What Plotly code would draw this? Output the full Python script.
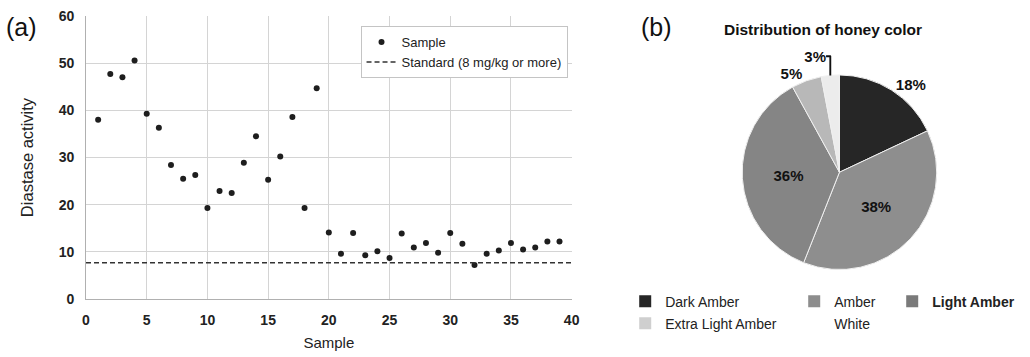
import plotly.graph_objects as go

# ---- data ----
sample = list(range(1, 40))
diastase = [38.0, 47.7, 47.0, 50.6, 39.3, 36.3, 28.4, 25.5, 26.3, 19.3,
            22.9, 22.5, 28.9, 34.5, 25.3, 30.2, 38.6, 19.3, 44.7, 14.1,
            9.6, 14.0, 9.3, 10.1, 8.7, 13.9, 10.9, 11.9, 9.8, 14.0,
            11.7, 7.2, 9.6, 10.3, 11.9, 10.5, 10.9, 12.2, 12.2]
standard_level = 7.7
x_range = [0, 40]
y_range = [0, 60]
x_ticks = [0, 5, 10, 15, 20, 25, 30, 35, 40]
y_ticks = [0, 10, 20, 30, 40, 50, 60]

color_labels = ["Dark Amber", "Amber", "Light Amber", "Extra Light Amber", "White"]
color_share = [18, 38, 36, 5, 3]
color_fill = ["#262626", "#8e8e8e", "#858585", "#b8b8b8", "#ececec"]
swatch_fill = ["#262626", "#8d8d8d", "#7a7a7a", "#cfcfcf", "#ffffff"]
label_pos = ["outside", "inside", "inside", "outside", "outside"]
legend_rows = ["legend2", "legend2", "legend2", "legend3", "legend3"]
legend_text = ["Dark Amber", "Amber", "<b>Light Amber</b>", "Extra Light Amber", "White"]
legend_widths = [124, 53, 100, 124, 53]

FONT = "Liberation Sans, Arial, sans-serif"

fig = go.Figure()

fig.add_trace(go.Scatter(
    x=sample, y=diastase, mode="markers", name="Sample",
    marker=dict(color="#1e1e1e", size=6), legend="legend",
))
fig.add_trace(go.Scatter(
    x=x_range, y=[standard_level, standard_level], mode="lines",
    name="Standard (8 mg/kg or more)",
    line=dict(color="#333333", width=1.5, dash="5px,3px"), legend="legend",
))

fig.add_trace(go.Pie(
    labels=color_labels, values=color_share, sort=False, direction="clockwise",
    rotation=0, marker=dict(colors=color_fill, line=dict(color="#f0f0f0", width=1)),
    texttemplate="%{value}%", textposition=label_pos,
    textfont=dict(family=FONT, size=15, color="#111111", weight="bold"),
    insidetextfont=dict(family=FONT, size=15, color="#111111", weight="bold"),
    outsidetextfont=dict(family=FONT, size=15, color="#111111", weight="bold"),
    domain=dict(x=[0.68, 0.95], y=[0.245, 0.79]),
    showlegend=False,
))

# legend swatches for the pie categories (two rows, as in the reference)
for lab, txt, col, lg, lw in zip(color_labels, legend_text, swatch_fill, legend_rows, legend_widths):
    fig.add_trace(go.Bar(
        x=[None], y=[None], name=txt, marker=dict(color=col, line=dict(width=0)),
        legend=lg, legendwidth=lw, showlegend=True, hoverinfo="skip",
    ))

axis_common = dict(
    showgrid=True, gridcolor="#d4d4d4", gridwidth=1,
    showline=True, linecolor="#b0b0b0", linewidth=1, mirror=False,
    zeroline=False, ticks="", type="linear",
    tickfont=dict(family=FONT, size=14, color="#222222", weight="bold"),
)

legend_row = dict(orientation="h", xanchor="left", yanchor="top",
                  font=dict(family=FONT, size=14, color="#222222"),
                  itemwidth=30, traceorder="normal", bgcolor="rgba(0,0,0,0)")

fig.update_layout(
    width=1030, height=357,
    margin=dict(l=0, r=0, t=0, b=0, autoexpand=False),
    paper_bgcolor="white", plot_bgcolor="white",
    font=dict(family=FONT, color="#222222"),
    xaxis=dict(domain=[0.0835, 0.555], range=x_range, tickvals=x_ticks,
               title=dict(text="Sample", font=dict(family=FONT, size=15), standoff=10),
               ticklabelstandoff=8, **axis_common),
    yaxis=dict(domain=[0.1625, 0.955], range=y_range, tickvals=y_ticks,
               title=dict(text="Diastase activity", font=dict(family=FONT, size=16.5), standoff=20),
               ticklabelstandoff=8, **axis_common),
    legend=dict(x=0.551, xanchor="right", y=0.927, yanchor="top",
                bgcolor="white", bordercolor="#c4c4c4", borderwidth=1,
                font=dict(family=FONT, size=13, color="#222222"),
                tracegroupgap=0, itemwidth=30),
    legend2=dict(x=0.607, y=0.2, **legend_row),
    legend3=dict(x=0.607, y=0.138, **legend_row),
    showlegend=True,
    annotations=[
        dict(text="(a)", x=0.004, y=0.925, xref="paper", yref="paper",
             xanchor="left", yanchor="middle", showarrow=False,
             font=dict(family=FONT, size=25, color="#111111")),
        dict(text="(b)", x=0.62, y=0.925, xref="paper", yref="paper",
             xanchor="left", yanchor="middle", showarrow=False,
             font=dict(family=FONT, size=25, color="#111111")),
        dict(text="<b>Distribution of honey color</b>", x=0.799, y=0.918,
             xref="paper", yref="paper", xanchor="center", yanchor="middle",
             showarrow=False, font=dict(family=FONT, size=15.5, color="#111111")),
    ],
)

fig.write_html("out.html")
